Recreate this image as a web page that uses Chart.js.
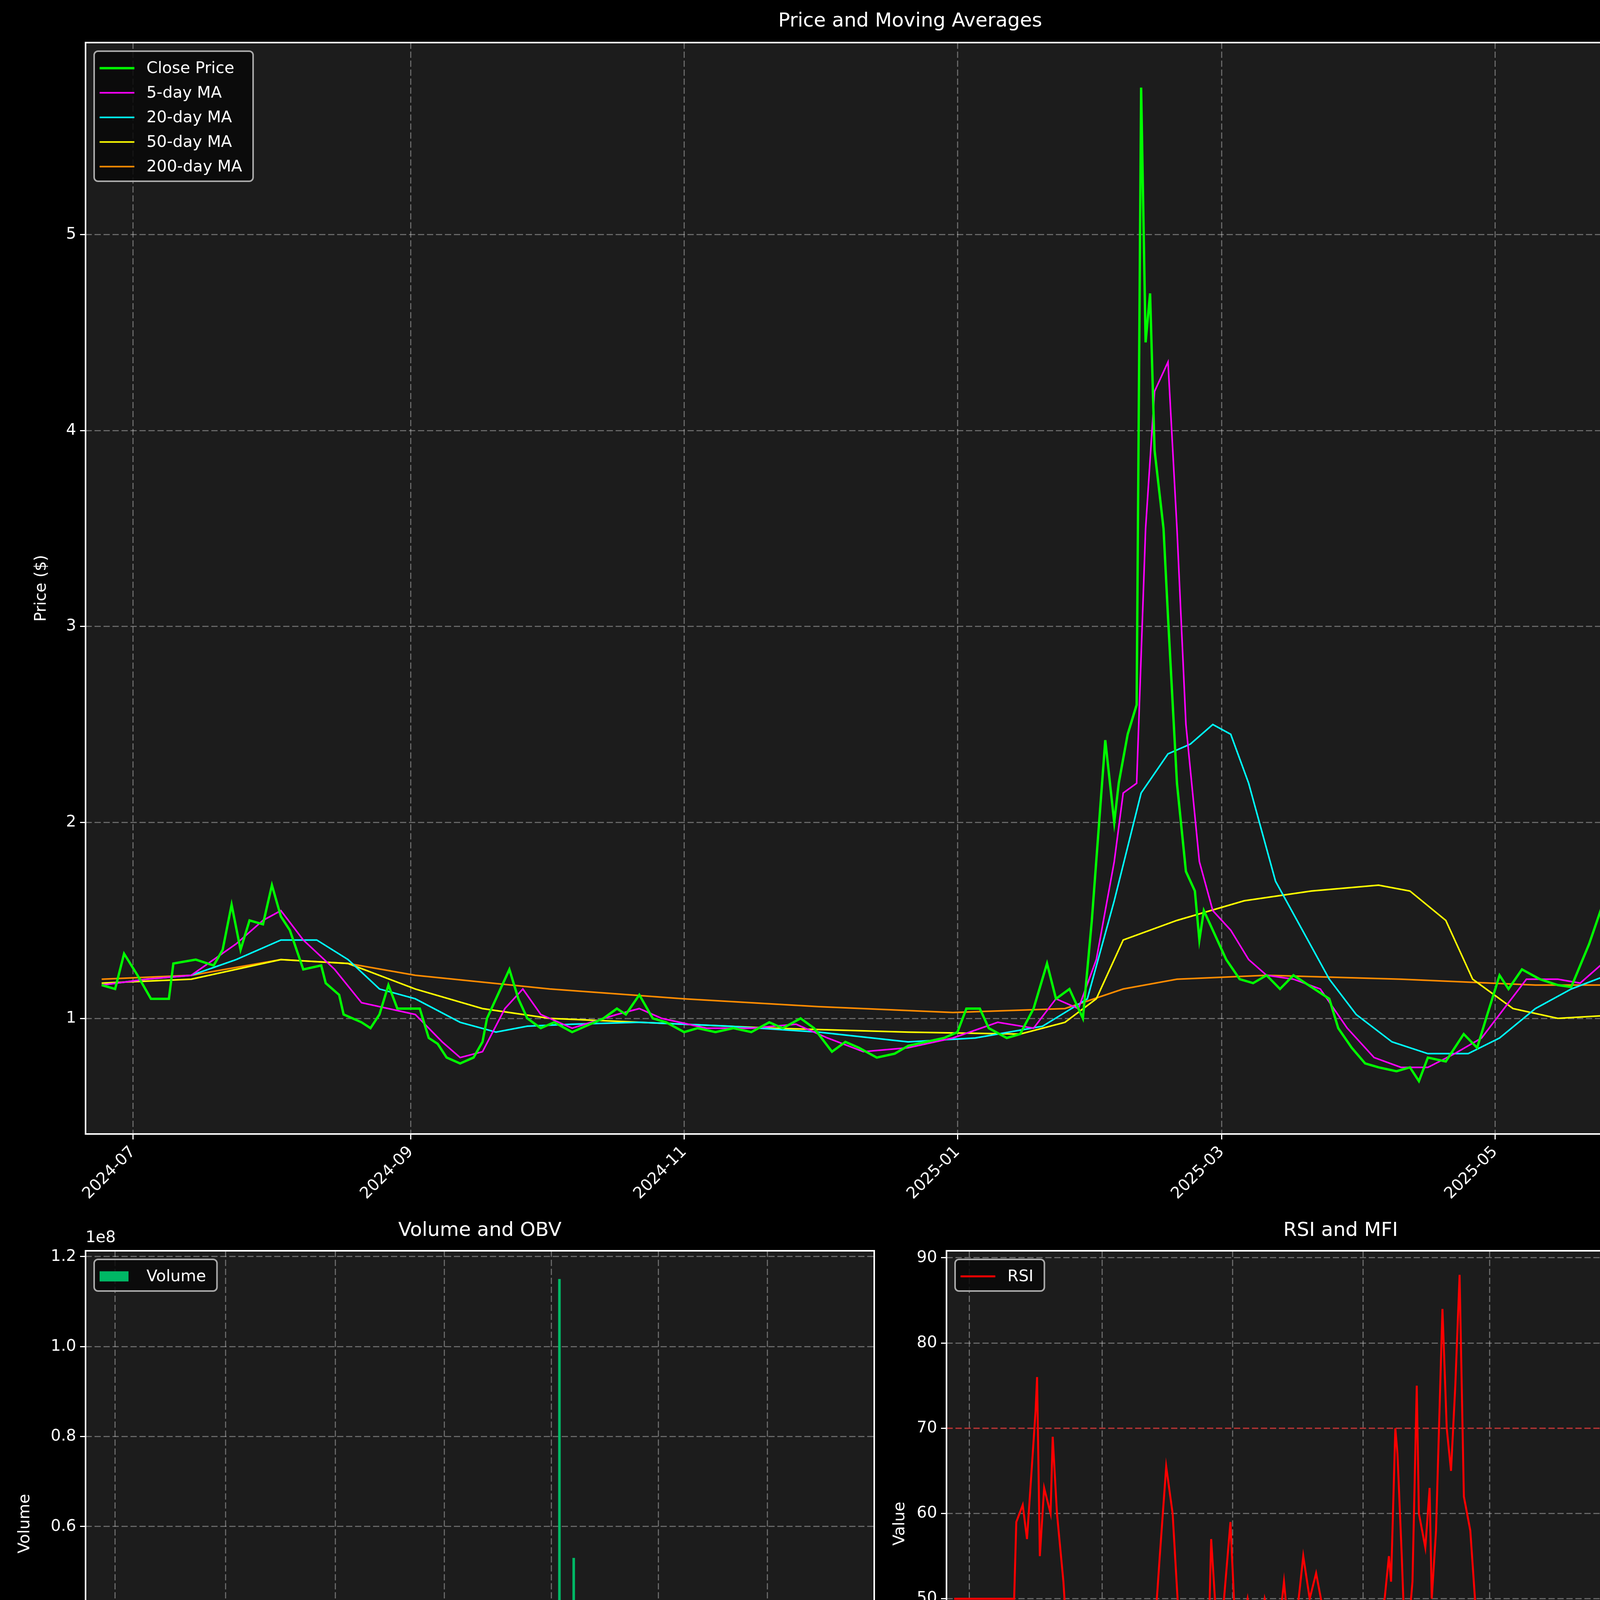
<!DOCTYPE html>
<html><head><meta charset="utf-8">
<script src="https://cdn.jsdelivr.net/npm/chart.js@4"></script>
<style>
html,body{margin:0;padding:0;background:#000;width:4470px;height:6507px;overflow:hidden;font-family:"DejaVu Sans",sans-serif}
canvas{position:absolute}
.t{position:absolute;color:#fff;font-size:50px;text-align:center;white-space:nowrap;transform:translateX(-50%)}
</style></head><body>
<script>
// ---- data (x = days since 2024-06-24) ----
const tickDays = [7, 69, 130, 191, 250, 311];
const tickLabels = ["2024-07","2024-09","2024-11","2025-01","2025-03","2025-05"];

const closeDays = [0,3,5,8,11,15,16,21,25,27,29,31,33,36,38,40,42,45,49,50,53,54,58,60,62,64,66,68,71,73,75,77,80,83,85,86,88,91,93,95,98,101,105,108,112,115,117,120,123,126,130,133,137,141,145,149,152,156,159,163,166,169,173,177,180,184,188,191,193,196,198,202,205,208,211,213,216,219,221,224,226,227,229,231,232,233,234,235,237,238,240,242,244,245,246,248,251,254,257,260,263,266,270,274,276,279,282,285,289,292,294,296,300,304,307,309,312,314,317,321,325,328,332,335,338,341,345,348,351,355,357,359,362];
const closeVals = [1.17,1.15,1.33,1.22,1.1,1.1,1.28,1.3,1.27,1.35,1.58,1.35,1.5,1.48,1.68,1.52,1.45,1.25,1.27,1.18,1.12,1.02,0.98,0.95,1.02,1.17,1.05,1.05,1.05,0.9,0.87,0.8,0.77,0.8,0.88,1.0,1.1,1.25,1.1,1.0,0.95,0.98,0.93,0.96,1.0,1.05,1.02,1.12,1.0,0.98,0.93,0.95,0.93,0.95,0.93,0.98,0.95,1.0,0.95,0.83,0.88,0.85,0.8,0.82,0.86,0.88,0.9,0.93,1.05,1.05,0.95,0.9,0.92,1.05,1.28,1.1,1.15,1.0,1.5,2.42,2.0,2.2,2.45,2.6,5.75,4.45,4.7,3.9,3.5,3.05,2.2,1.75,1.65,1.4,1.55,1.45,1.3,1.2,1.18,1.22,1.15,1.22,1.16,1.1,0.95,0.85,0.77,0.75,0.73,0.75,0.68,0.8,0.78,0.92,0.85,1.0,1.22,1.15,1.25,1.2,1.17,1.16,1.38,1.58,1.3,1.25,1.42,1.38,1.4,1.35,1.38,1.25,1.25];

const ma5Days = [0,10,20,30,36,40,45,52,58,64,70,76,80,85,90,94,98,105,115,120,125,135,145,155,162,170,180,190,200,208,213,218,222,226,228,231,233,235,238,240,242,245,248,252,256,260,266,272,278,284,290,296,302,308,313,318,325,330,336,340,345,352,358,362];
const ma5Vals = [1.17,1.2,1.22,1.38,1.5,1.55,1.4,1.25,1.08,1.05,1.02,0.88,0.8,0.83,1.05,1.15,1.02,0.95,1.02,1.05,1.0,0.95,0.95,0.97,0.9,0.83,0.85,0.9,0.98,0.95,1.1,1.05,1.3,1.8,2.15,2.2,3.5,4.2,4.35,3.5,2.5,1.8,1.55,1.45,1.3,1.22,1.2,1.15,0.95,0.8,0.75,0.75,0.82,0.9,1.05,1.2,1.2,1.18,1.3,1.4,1.35,1.4,1.35,1.3];
const ma20Days = [0,10,20,30,40,48,55,62,70,80,88,95,105,120,140,160,180,195,210,220,226,232,238,243,248,252,256,262,268,274,280,288,296,305,312,320,328,336,345,355,362];
const ma20Vals = [1.17,1.2,1.22,1.3,1.4,1.4,1.3,1.15,1.1,0.98,0.93,0.96,0.97,0.98,0.96,0.93,0.88,0.9,0.96,1.1,1.6,2.15,2.35,2.4,2.5,2.45,2.2,1.7,1.45,1.2,1.02,0.88,0.82,0.82,0.9,1.05,1.15,1.22,1.28,1.32,1.33];
const ma50Days = [0,20,40,55,70,85,100,120,150,180,205,215,222,228,240,255,270,285,292,300,306,315,325,340,352,362];
const ma50Vals = [1.18,1.2,1.3,1.28,1.15,1.05,1.0,0.98,0.95,0.93,0.92,0.98,1.1,1.4,1.5,1.6,1.65,1.68,1.65,1.5,1.2,1.05,1.0,1.02,1.05,1.12];
const ma200Days = [0,20,40,55,70,100,130,160,190,215,228,240,260,290,320,362];
const ma200Vals = [1.2,1.22,1.3,1.28,1.22,1.15,1.1,1.06,1.03,1.05,1.15,1.2,1.22,1.2,1.17,1.17];

const volDays = [2,10,18,25,30,36,44,52,60,70.5,78,90,100,115,130,150,170,190,205,213,218,222,225,227,230,233,235,240,248,260,275,290,300,311,320,335,350];
const volVals = [0.3e6,0.5e6,0.2e6,0.4e6,0.6e6,3e6,0.5e6,0.3e6,0.4e6,8.5e6,0.3e6,0.2e6,0.3e6,0.2e6,0.2e6,0.2e6,0.3e6,0.3e6,0.5e6,4e6,1.5e6,13.5e6,115e6,2e6,2.5e6,53e6,3e6,1.5e6,1e6,0.5e6,0.4e6,0.4e6,0.6e6,15e6,0.8e6,0.5e6,0.4e6];

const rsiDays = [0,6,28,29,32,34,38,38.7,40,42,45,46,48,51,53,56,59,62,65,67,72,74,77,79,82,85,87,91,93,96,99,102,105,108,112,113,116,119,120,123,126,129,131,134,137,140,142,145,148,151,154,157,160,163,166,169,172,175,178,181,184,187,190,193,195,198,201,203,204,206,207,209,210,212,214,216,217,220,222,223,225,228,230,232,234,236,238,241,244,247,254,262,269,276,280,284,288,291,294,297,300,303,306,309,312,313,316,319,322,325,328,331,334,337,340,342,345,348,351,354,357,360,362];
const rsiVals = [50,50,50,59,61,57,72,76,55,63,60,69,60,52,44,46,35,32,33,30,48,40,41,35,32,30,33,41,44,55,65.5,60,47,44,46,44,48,47,57,45,50,59,48,46,50,45,44,50,47,45,52,44,48,55,50,53,49,47,37,37,45,42,37,33,38,48,50,55,52,70,67,55,48,46,52,75,60,56,63,50,58,84,70,65,75,88,62,58,47,45,44,41,44,42,41,38,36,33,32,34,31,40,39,50,44,65,60,64,60,55,60,56,68,75,57,54,52,61,58,55,60,46,47];

const macdDays = [0,36,38,43,48,51,54,59,63,67,70.5,76,81,85,90,93,97,101,106,113,121,128,135,143,150,156,160,165,172,180,187,194,199,203,209,213,218,224,227,230,233,236,239,241,244,247,250,255,259,264,268,275,283,290,297,303,308,312,317,321,327,333,337,343,350,356,361];
const macdVals = [0,0,0.09,0.1,0.09,0.08,0.02,-0.03,-0.07,-0.1,-0.08,-0.08,-0.09,-0.11,-0.09,-0.03,0.01,0,-0.02,-0.02,0.01,0,-0.01,-0.01,-0.01,0,-0.01,-0.02,-0.03,-0.02,-0.01,0.01,0.02,0.01,0.03,0.06,0.05,0.2,0.3,0.35,0.62,0.85,0.78,0.55,0.1,-0.05,-0.15,-0.21,-0.23,-0.21,-0.2,-0.19,-0.21,-0.2,-0.19,-0.15,-0.1,-0.02,0.02,0.07,0.06,0.1,0.08,0.07,0.08,0.06,0.04];
const sigDays = [0,50,53,56,60,65,69,76,84,88,92,97,103,113,122,135,150,165,180,194,209,216,222,228,233,237,240,243,246,251,256,262,269,283,297,304,310,317,323,330,337,344,351,357,362];
const sigVals = [0,0,0.055,0.05,0,-0.05,-0.07,-0.08,-0.1,-0.11,-0.07,-0.04,-0.02,-0.02,0.01,0,-0.01,-0.02,-0.02,0.01,0.01,0.04,0.13,0.3,0.55,0.58,0.61,0.5,0.25,-0.05,-0.17,-0.2,-0.19,-0.2,-0.2,-0.15,-0.05,0.03,0.06,0.08,0.08,0.07,0.07,0.07,0.06];

const vwapDays = [0,15,22,25,45,50,55,100,150,220,225,228,232,234,236,245,270,310,312,362];
const vwapVals = [1.15,1.2,1.22,1.45,1.45,1.38,1.28,1.25,1.22,1.2,1.5,2.15,2.2,2.85,2.9,2.88,2.85,2.83,2.72,2.67];
const bbDays = [0,15,25,35,45,55,65,75,85,95,105,130,160,190,215,222,226,230,234,237,240,243,246,250,255,260,265,270,290,310,314,318,325,335,345,362];
const bbUpper = [1.25,1.28,1.55,1.6,1.6,1.5,1.35,1.35,1.5,1.52,1.35,1.27,1.25,1.22,1.22,1.3,1.6,2.3,3.0,3.3,3.5,3.62,3.66,3.5,3.25,3.0,2.9,2.88,2.86,2.85,2.92,2.93,2.88,2.75,2.7,2.68];
const bbLower = [1.08,1.12,1.3,1.35,1.33,1.25,1.2,1.15,1.05,1.05,1.15,1.18,1.18,1.18,1.18,1.15,1.2,1.3,0.5,0.45,0.5,0.8,1.2,1.9,2.4,2.75,2.82,2.85,2.84,2.83,2.72,2.7,2.65,2.66,2.67,2.67];

// ---- helpers ----
Chart.defaults.font.family = "DejaVu Sans";
Chart.defaults.font.size = 41;
Chart.defaults.color = "#fff";
const pts = (xs, ys) => xs.map((x, i) => ({x, y: ys[i]}));
const XMIN = -3.6, XMAX = 364.5;

const boxPlugin = {
  id: 'boxp',
  beforeDraw(c) {
    const a = c.chartArea, g = c.ctx;
    g.save(); g.fillStyle = '#1c1c1c'; g.fillRect(a.left, a.top, a.right - a.left, a.bottom - a.top); g.restore();
  },
  afterDatasetsDraw(c) {
    const a = c.chartArea, g = c.ctx, o = c.options.plugins.boxp || {};
    g.save();
    if (o.hlines) o.hlines.forEach(h => {
      const y = c.scales.y.getPixelForValue(h.v);
      g.strokeStyle = h.c; g.lineWidth = 4; g.setLineDash([16, 7]);
      g.beginPath(); g.moveTo(a.left, y); g.lineTo(a.right, y); g.stroke();
    });
    g.setLineDash([]);
    g.strokeStyle = '#fff'; g.lineWidth = 4;
    g.strokeRect(a.left, a.top, a.right - a.left, a.bottom - a.top);
    if (o.exp) { g.fillStyle = '#fff'; g.font = '41px "DejaVu Sans"'; g.textBaseline = 'bottom'; g.fillText(o.exp, a.left, a.top - 12); }
    const items = o.legend || [];
    if (items.length) {
      g.font = '41px "DejaVu Sans"';
      let tw = 0; items.forEach(it => tw = Math.max(tw, g.measureText(it.label).width));
      const x0 = a.left + 22, y0 = a.top + 22, rowH = 63, w = 134 + tw + 28, hgt = items.length * rowH + 18;
      g.fillStyle = 'rgba(8,8,8,0.85)'; g.strokeStyle = '#aaa'; g.lineWidth = 4;
      g.beginPath(); g.roundRect(x0, y0, w, hgt, 10); g.fill(); g.stroke();
      items.forEach((it, i) => {
        const cy = y0 + 12 + rowH * i + rowH / 2;
        if (it.box) { g.fillStyle = it.color; g.fillRect(x0 + 14, cy - 13, 74, 26); }
        else { g.strokeStyle = it.color; g.lineWidth = it.w || 4; g.beginPath(); g.moveTo(x0 + 14, cy); g.lineTo(x0 + 103, cy); g.stroke(); }
        g.fillStyle = '#fff'; g.textBaseline = 'middle'; g.fillText(it.label, x0 + 134, cy + 2);
      });
    }
    g.restore();
  }
};

const gridOpt = () => ({ color: 'rgba(255,255,255,0.33)', lineWidth: 3, tickColor: '#fff', tickWidth: 3, tickLength: 14, tickBorderDash: [] });
const borderOpt = () => ({ display: false, dash: [16, 7] });

function axisX() {
  return {
    type: 'linear', min: XMIN, max: XMAX,
    afterBuildTicks: s => { s.ticks = tickDays.map(v => ({value: v})); },
    afterFit: s => { s.height = 260; },
    ticks: { callback: v => tickLabels[tickDays.indexOf(v)] || '', minRotation: 45, maxRotation: 45, padding: 8, color: '#fff', autoSkip: false },
    grid: gridOpt(), border: borderOpt()
  };
}
function axisY(min, max, ticks, fmt, yw, title, tpad) {
  return {
    type: 'linear', min, max,
    afterBuildTicks: s => { s.ticks = ticks.map(v => ({value: v})); },
    afterFit: s => { s.width = yw; },
    ticks: { callback: fmt, padding: 10, color: '#fff' },
    title: { display: true, text: title, color: '#fff', font: { size: 41 }, padding: { top: tpad, bottom: 0 } },
    grid: gridOpt(), border: borderOpt()
  };
}

function panel(r, title, titleY, datasets, yax, boxp, type) {
  const cv = document.createElement('canvas');
  const W = r.R + 30 - r.cl, H = r.B - r.T + 90 + 260;
  cv.width = W; cv.height = H;
  cv.style.left = r.cl + 'px'; cv.style.top = (r.T - 90) + 'px';
  cv.style.width = W + 'px'; cv.style.height = H + 'px';
  document.body.appendChild(cv);
  const t = document.createElement('div'); t.className = 't'; t.textContent = title;
  t.style.left = ((r.L + r.R) / 2) + 'px'; t.style.top = titleY + 'px';
  document.body.appendChild(t);
  new Chart(cv, {
    type: type || 'line',
    data: { datasets },
    options: {
      responsive: false, devicePixelRatio: 1, animation: false,
      layout: { padding: { top: 90, right: 30, left: 0, bottom: 0 } },
      elements: { point: { radius: 0 }, line: { tension: 0 } },
      plugins: { legend: { display: false }, tooltip: { enabled: false }, boxp },
      scales: { x: axisX(), y: yax }
    },
    plugins: [boxPlugin]
  });
}
const ln = (label, d, color, w, extra) => Object.assign({ type: 'line', label, data: d, borderColor: color, borderWidth: w, pointRadius: 0, fill: false }, extra || {});
const fmtNum = v => String(v).replace('-', '\u2212');

panel({L:219,R:4441,T:109,B:2903,cl:0}, 'Price and Moving Averages', 22, [
  ln('Close Price', pts(closeDays, closeVals), '#00ff00', 6),
  ln('5-day MA', pts(ma5Days, ma5Vals), '#ff00ff', 4),
  ln('20-day MA', pts(ma20Days, ma20Vals), '#00ffff', 4),
  ln('50-day MA', pts(ma50Days, ma50Vals), '#ffff00', 4),
  ln('200-day MA', pts(ma200Days, ma200Vals), '#ff8c00', 4)
], axisY(0.41, 5.98, [1,2,3,4,5], fmtNum, 219, 'Price ($)', 82),
{ legend: [
  {label:'Close Price', color:'#00ff00', w:6},{label:'5-day MA', color:'#ff00ff'},{label:'20-day MA', color:'#00ffff'},
  {label:'50-day MA', color:'#ffff00'},{label:'200-day MA', color:'#ff8c00'}] });

panel({L:219,R:2238,T:3202,B:4599,cl:0}, 'Volume and OBV', 3118, [
  { type: 'bar', label: 'Volume', data: pts(volDays, volVals), backgroundColor: '#00b865', barThickness: 6 }
], axisY(0, 1.213e8, [0,0.2e8,0.4e8,0.6e8,0.8e8,1.0e8,1.2e8], v => (v/1e8).toFixed(1), 219, 'Volume', 40),
{ exp: '1e8', legend: [{label:'Volume', color:'#00b865', box:true}] }, 'bar');

panel({L:2423,R:4441,T:3202,B:4599,cl:2250}, 'RSI and MFI', 3118, [
  ln('RSI', pts(rsiDays, rsiVals), '#ff0000', 5)
], axisY(26.8, 90.82, [30,40,50,60,70,80,90], fmtNum, 173, 'Value', 30),
{ hlines: [{v:70, c:'rgba(255,0,0,0.45)'}, {v:30, c:'rgba(0,160,0,0.45)'}], legend: [{label:'RSI', color:'#ff0000', w:5}] });

panel({L:219,R:2238,T:4898,B:6295,cl:0}, 'MACD', 4815, [
  ln('MACD', pts(macdDays, macdVals), '#ff8c00', 6),
  ln('Signal', pts(sigDays, sigVals), '#00ff99', 6)
], axisY(-0.297, 0.906, [-0.2,0,0.2,0.4,0.6,0.8], v => fmtNum(v.toFixed(1)), 219, 'Value', 8),
{ legend: [{label:'MACD', color:'#ff8c00', w:5},{label:'Signal', color:'#00ff99', w:5}] });

panel({L:2423,R:4441,T:4898,B:6295,cl:2250}, 'VWAP with Bollinger Bands', 4815, [
  ln('Close Price', pts(closeDays, closeVals), 'rgba(0,170,0,0.85)', 4),
  ln('VWAP', pts(vwapDays, vwapVals), '#ff00ff', 6),
  ln('VWAP BB Upper', pts(bbDays, bbUpper), 'rgba(200,70,70,0.6)', 3),
  ln('VWAP BB Lower', pts(bbDays, bbLower), 'rgba(80,170,80,0.6)', 3, { fill: '-1', backgroundColor: 'rgba(160,160,160,0.18)' })
], axisY(0.19, 5.998, [1,2,3,4,5], fmtNum, 173, 'Price ($)', 18),
{ legend: [{label:'Close Price', color:'#00aa00'},{label:'VWAP', color:'#ff00ff', w:6},
  {label:'VWAP BB Upper', color:'rgba(200,70,70,0.7)'},{label:'VWAP BB Lower', color:'rgba(80,170,80,0.7)'}] });
</script>
</body></html>
